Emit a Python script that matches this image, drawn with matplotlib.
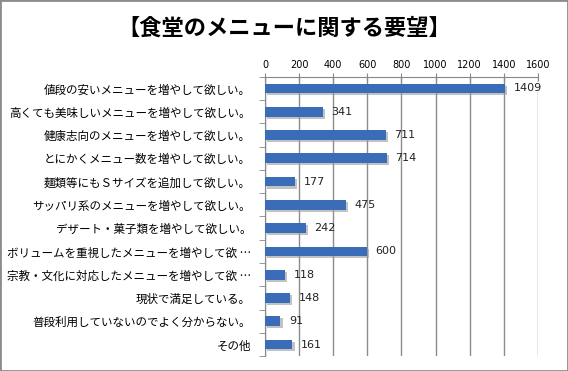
import numpy as np
import matplotlib
matplotlib.use('Agg')
from matplotlib import pyplot as plt
from matplotlib import patheffects as pe
from matplotlib.patches import Rectangle

plt.rcParams['font.family'] = ['Noto Sans CJK JP', 'DejaVu Sans']

# data, top to bottom
categories = [
    '値段の安いメニューを増やして欲しい。',
    '高くても美味しいメニューを増やして欲しい。',
    '健康志向のメニューを増やして欲しい。',
    'とにかくメニュー数を増やして欲しい。',
    '麺類等にもＳサイズを追加して欲しい。',
    'サッパリ系のメニューを増やして欲しい。',
    'デザート・菓子類を増やして欲しい。',
    'ボリュームを重視したメニューを増やして欲 …',
    '宗教・文化に対応したメニューを増やして欲 …',
    '現状で満足している。',
    '普段利用していないのでよく分からない。',
    'その他',
]
counts = [1409, 341, 711, 714, 177, 475, 242, 600, 118, 148, 91, 161]
xticks = [0, 200, 400, 600, 800, 1000, 1200, 1400, 1600]
title = '【食堂のメニューに関する要望】'

fig = plt.figure(figsize=(5.68, 3.71), dpi=100)
fig.patches.append(Rectangle((0, 0), 1, 1, transform=fig.transFigure,
                             fill=False, edgecolor='#8c8c8c', linewidth=2))

ax = fig.add_axes([0.4665, 0.040, 0.4805, 0.753])
y = np.arange(len(categories))

bars = ax.barh(y, counts, height=0.42, color='#3a6cb8', zorder=3)
for b in bars:
    b.set_path_effects([pe.SimplePatchShadow(offset=(1.5, -1.5), shadow_rgbFace='#9a9a9a', alpha=0.6),
                        pe.Normal()])

for yi, v in zip(y, counts):
    ax.annotate(str(v), (v, yi), xytext=(6, 0), textcoords='offset points',
                va='center', ha='left', fontsize=8, family='DejaVu Sans', color='#222222')

ax.set_xlim(0, 1600)
ax.set_ylim(len(categories) - 0.5, -0.5)
ax.xaxis.tick_top()
ax.set_xticks(xticks)
ax.set_xticklabels([str(t) for t in xticks], fontsize=7, family='DejaVu Sans')
ax.tick_params(axis='x', direction='inout', length=6, color='#888888', pad=2)
ax.grid(axis='x', color='#8c8c8c', linewidth=1, zorder=0)

ax.set_yticks(y)
ax.set_yticklabels(categories, fontsize=8.3)
ax.tick_params(axis='y', length=0, pad=10)
ax.set_yticks(np.arange(len(categories) + 1) - 0.5, minor=True)
ax.tick_params(axis='y', which='minor', length=4, color='#888888', direction='out')

for s in ['right', 'bottom']:
    ax.spines[s].set_visible(False)
ax.spines['top'].set_color('#888888')
ax.spines['left'].set_color('#888888')

fig.text(0.5, 0.925, title, ha='center', va='center', fontsize=16, fontweight='bold')

fig.savefig('out.png', dpi=100)
